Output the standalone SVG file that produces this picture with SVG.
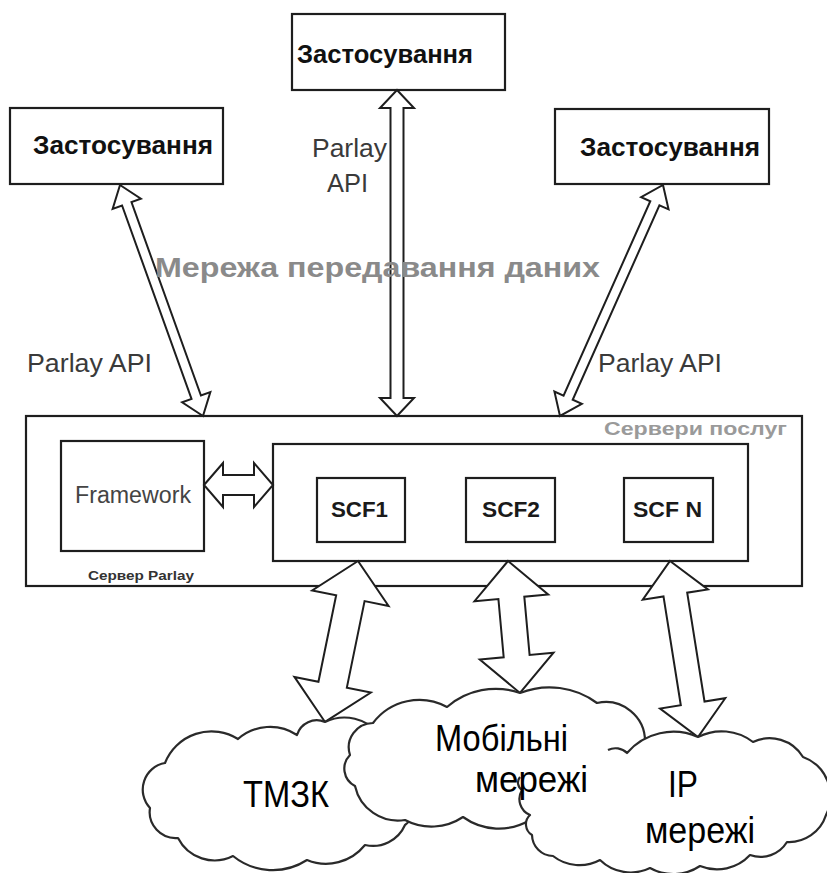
<svg xmlns="http://www.w3.org/2000/svg" width="827" height="873" viewBox="0 0 827 873">
<style>
.box{fill:#fff;stroke:#1e1e1e;stroke-width:2.2}
.arr{fill:#fff;stroke:#1e1e1e;stroke-width:2;stroke-linejoin:miter}
.cloud{fill:#fff;stroke:#2a2a2a;stroke-width:2.2;stroke-linejoin:round}
.app{font-family:"Liberation Sans",Arial,sans-serif;font-weight:bold;font-size:26px;fill:#111}
.api{font-family:"Liberation Sans",Arial,sans-serif;font-size:26px;fill:#3a3a3a}
.scf{font-family:"Liberation Sans",Arial,sans-serif;font-weight:bold;font-size:22px;fill:#1a1a1a}
.cl{font-family:"Liberation Sans",Arial,sans-serif;font-size:37px;fill:#000}
</style>
<rect width="827" height="873" fill="#fff"/>

<g id="app-top">
<rect class="box" x="292" y="14" width="213" height="76"/>
<text class="app" x="297" y="63" textLength="176" lengthAdjust="spacingAndGlyphs">Застосування</text>
</g>
<g id="app-left">
<rect class="box" x="10" y="108" width="213" height="76"/>
<text class="app" x="33" y="154" textLength="180" lengthAdjust="spacingAndGlyphs">Застосування</text>
</g>
<g id="app-right">
<rect class="box" x="555" y="109" width="214" height="75"/>
<text class="app" x="580" y="156" textLength="180" lengthAdjust="spacingAndGlyphs">Застосування</text>
</g>

<g id="parlay-server">
<rect class="box" x="26" y="416" width="776" height="170"/>
<text x="604" y="435" font-family="'Liberation Sans',Arial,sans-serif" font-weight="bold" font-size="18" fill="#9a9a9a" textLength="183" lengthAdjust="spacingAndGlyphs">Сервери послуг</text>
<text x="88" y="580" font-family="'Liberation Sans',Arial,sans-serif" font-weight="bold" font-size="13" fill="#333" textLength="106" lengthAdjust="spacingAndGlyphs">Сервер Parlay</text>
</g>
<g id="framework">
<rect class="box" x="61" y="441" width="143" height="110"/>
<text x="75" y="503" font-family="'Liberation Sans',Arial,sans-serif" font-size="23" fill="#444" textLength="116" lengthAdjust="spacingAndGlyphs">Framework</text>
</g>
<g id="service-servers">
<rect class="box" x="273" y="444" width="475" height="117"/>
</g>
<g id="scf1">
<rect class="box" x="317" y="478" width="88" height="64"/>
<text class="scf" x="331" y="517" textLength="57" lengthAdjust="spacingAndGlyphs">SCF1</text>
</g>
<g id="scf2">
<rect class="box" x="466" y="478" width="89" height="64"/>
<text class="scf" x="482" y="517" textLength="58" lengthAdjust="spacingAndGlyphs">SCF2</text>
</g>
<g id="scfn">
<rect class="box" x="624" y="478" width="89" height="64"/>
<text class="scf" x="633" y="517" textLength="69" lengthAdjust="spacingAndGlyphs">SCF N</text>
</g>

<g id="connectors">
<path class="arr" transform="translate(120,185) rotate(70.24)" d="M0,0 L20,-15 L20,-5 L225.5,-5 L225.5,-15 L245.5,0 L225.5,15 L225.5,5 L20,5 L20,15 Z"/>
<path class="arr" d="M397,90 L414,108 L403.5,108 L403.5,398 L414,398 L397,416 L380,398 L390.5,398 L390.5,108 L380,108 Z"/>
<path class="arr" transform="translate(663,185) rotate(114.04)" d="M0,0 L20,-15 L20,-5 L232.9,-5 L232.9,-15 L252.9,0 L232.9,15 L232.9,5 L20,5 L20,15 Z"/>
<path class="arr" d="M204,485 L223,463 L223,475 L254,475 L254,463 L273,485 L254,507 L254,495 L223,495 L223,507 Z"/>
<path class="arr" transform="translate(358,561) rotate(101.58)" d="M0,0 L38,-39 L38,-14.5 L126.3,-14.5 L126.3,-39 L164.3,0 L126.3,39 L126.3,14.5 L38,14.5 L38,39 Z"/>
<path class="arr" transform="translate(508,561) rotate(84.81)" d="M0,0 L37,-37 L37,-13 L95.5,-13 L95.5,-37 L132.5,0 L95.5,37 L95.5,13 L37,13 L37,37 Z"/>
<path class="arr" transform="translate(670,561) rotate(80.96)" d="M0,0 L34,-33 L34,-12 L144.2,-12 L144.2,-33 L178.2,0 L144.2,33 L144.2,12 L34,12 L34,33 Z"/>
</g>

<g id="labels">
<text class="api" x="27" y="372" textLength="125" lengthAdjust="spacingAndGlyphs">Parlay API</text>
<text class="api" x="312" y="157" textLength="75" lengthAdjust="spacingAndGlyphs">Parlay</text>
<text class="api" x="327" y="192" textLength="41" lengthAdjust="spacingAndGlyphs">API</text>
<text class="api" x="598" y="372" textLength="124" lengthAdjust="spacingAndGlyphs">Parlay API</text>
<text x="155" y="277" font-family="'Liberation Sans',Arial,sans-serif" font-weight="bold" font-size="27" fill="#8a8a8a" textLength="445" lengthAdjust="spacingAndGlyphs">Мережа передавання даних</text>
</g>

<g id="cloud-pstn">
<path class="cloud" d="M165,763 A50,50 0 0 1 238,739 A48.7,48.7 0 0 1 297,735 A20.5,20.5 0 0 1 325,722 A45,45 0 0 1 380,735 A48.8,48.8 0 0 1 407,800 A16,16 0 0 1 405,825 A35,35 0 0 1 365,845 A50,50 0 0 1 307,860 A63,63 0 0 1 233,856 A41,41 0 0 1 178,838 A26,26 0 0 1 150,808 A27,27 0 0 1 165,763 Z"/>
</g>
<g id="cloud-mobile">
<path class="cloud" d="M373,723 A58,58 0 0 1 447,707 A74,74 0 0 1 520,693 A80,80 0 0 1 597,703 A39.3,39.3 0 0 1 645,742 L600,790 L530,820 A61,61 0 0 1 463,817 A56.6,56.6 0 0 1 405,820 A44,44 0 0 1 355,786 A19.4,19.4 0 0 1 350,755 A24.4,24.4 0 0 1 373,723 Z"/>
</g>
<g id="cloud-ip">
<path fill="#fff" stroke="none" d="M608,750 A16.5,16.5 0 0 1 627,753 A61,61 0 0 1 698,737 A51.6,51.6 0 0 1 753,742 A39,39 0 0 1 803,757 A41.8,41.8 0 0 1 826,815 A39,39 0 0 1 787,842 A31,31 0 0 1 750,855 A45,45 0 0 1 700,866 A48,48 0 0 1 650,868 A44,44 0 0 1 600,860 A43,43 0 0 1 553,856 A21.4,21.4 0 0 1 532,835 A12.6,12.6 0 0 1 530,815 A17.3,17.3 0 0 1 522,790 A8.8,8.8 0 0 1 520,777 Q545,752 608,750 Z"/>
<path class="cloud" style="fill:none" d="M608,750 A16.5,16.5 0 0 1 627,753 A61,61 0 0 1 698,737 A51.6,51.6 0 0 1 753,742 A39,39 0 0 1 803,757 A41.8,41.8 0 0 1 826,815 A39,39 0 0 1 787,842 A31,31 0 0 1 750,855 A45,45 0 0 1 700,866 A48,48 0 0 1 650,868 A44,44 0 0 1 600,860 A43,43 0 0 1 553,856 A21.4,21.4 0 0 1 532,835 A12.6,12.6 0 0 1 530,815 A17.3,17.3 0 0 1 522,790 A8.8,8.8 0 0 1 520,777"/>
</g>

<g id="cloud-labels">
<text class="cl" x="243" y="807" textLength="86" lengthAdjust="spacingAndGlyphs">ТМЗК</text>
<text class="cl" x="435" y="751" textLength="133" lengthAdjust="spacingAndGlyphs">Мобільні</text>
<text class="cl" x="475" y="792" textLength="113" lengthAdjust="spacingAndGlyphs">мережі</text>
<text class="cl" x="668" y="797" textLength="30" lengthAdjust="spacingAndGlyphs">IP</text>
<text class="cl" x="645" y="843" textLength="110" lengthAdjust="spacingAndGlyphs">мережі</text>
</g>
</svg>
